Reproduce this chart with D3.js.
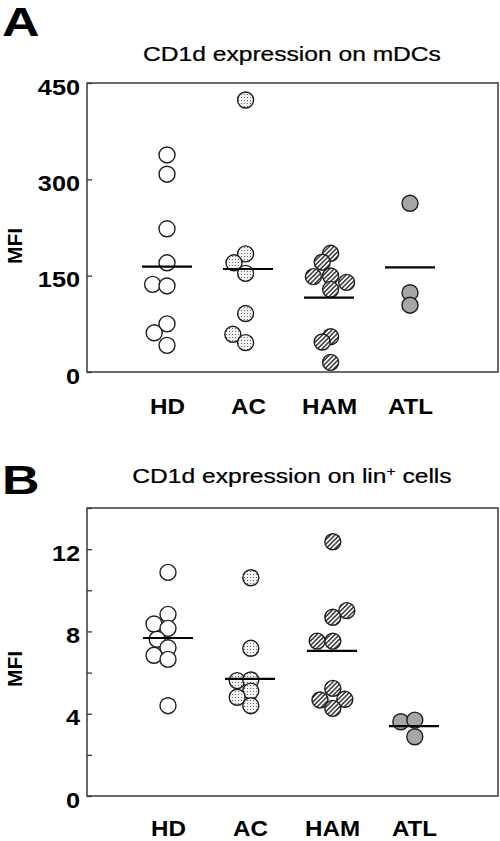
<!DOCTYPE html>
<html><head><meta charset="utf-8">
<script src="https://cdn.jsdelivr.net/npm/d3@7"></script>
<style>html,body{margin:0;padding:0;background:#fff}</style>
</head><body><svg id="c" width="500" height="841" xmlns="http://www.w3.org/2000/svg"></svg>
<script>
const categories = ["HD", "AC", "HAM", "ATL"];

// Panel A: CD1d expression on mDCs (MFI)
const mdcHD  = [338, 308, 223, 170, 136.5, 134, 75, 61, 41.5];
const mdcAC  = [423.5, 184, 170, 153.6, 91, 58.7, 45.7];
const mdcHAM = [184.8, 171, 148.5, 149.5, 139.6, 128.7, 55, 46.7, 15];
const mdcATL = [262.7, 123.5, 104];
const mdcMeans = [164, 160.4, 115.7, 163];
const mdcTicks = [0, 150, 300, 450];
const mdcTickLabels = ["0", "150", "300", "450"];

// Panel B: CD1d expression on lin+ cells (MFI)
const linHD  = [10.87, 8.83, 8.36, 8.15, 7.62, 7.21, 6.84, 6.64, 4.39];
const linAC  = [10.61, 7.18, 5.61, 5.64, 5.10, 4.80, 4.39];
const linHAM = [12.36, 9.01, 8.69, 7.53, 7.53, 5.23, 4.67, 4.70, 4.26];
const linATL = [3.61, 3.69, 2.88];
const linMeans = [7.68, 5.69, 7.05, 3.40];
const linTicks = [0, 2, 4, 6, 8, 10, 12, 14];
const linTickLabels = ["0", "", "4", "", "8", "", "12", ""];

// dodge slots of overlapping points (in circle radii)
const mdcHDdx  = [0, 0, 0, 0, -1.8, 0, 0, -1.6, 0];
const mdcACdx  = [-0.3, -0.3, -1.75, -0.3, -0.3, -1.9, -0.3];
const mdcHAMdx = [0.2, -0.85, -1.95, 0.2, 2.2, 0.2, 0.2, -0.85, 0.2];
const mdcATLdx = [0, 0, 0];
const linHDdx  = [0, 0, -1.75, 0, -1.35, 0, -1.75, 0, 0];
const linACdx  = [0.1, 0.1, -1.6, 0.1, 0.1, -1.6, 0.1];
const linHAMdx = [0.1, 1.85, 0.1, -1.85, 0.1, 0.1, -1.5, 1.6, 0.1];
const linATLdx = [-1.65, 0.1, 0.1];

const fills = ["#ffffff", "url(#dots)", "url(#hatch)", "#a6a6a6"];
const R = 8;
const FONT = "'Liberation Sans', Arial, Helvetica, sans-serif";

const svg = d3.select("#c");
const defs = svg.append("defs");
const pd = defs.append("pattern").attr("id", "dots").attr("patternUnits", "userSpaceOnUse")
  .attr("width", 3).attr("height", 3);
pd.append("rect").attr("width", 3).attr("height", 3).attr("fill", "#f4f4f4");
pd.append("circle").attr("cx", 1.5).attr("cy", 1.5).attr("r", 0.6).attr("fill", "#555");
const ph = defs.append("pattern").attr("id", "hatch").attr("patternUnits", "userSpaceOnUse")
  .attr("width", 3.2).attr("height", 3.2).attr("patternTransform", "rotate(45)");
ph.append("rect").attr("width", 3.2).attr("height", 3.2).attr("fill", "#ffffff");
ph.append("line").attr("x1", 0.8).attr("y1", 0).attr("x2", 0.8).attr("y2", 3.2)
  .attr("stroke", "#2a2a2a").attr("stroke-width", 1.4);

const panels = [
  { letter: "A", title: ["CD1d expression on mDCs"], groups: [mdcHD, mdcAC, mdcHAM, mdcATL],
    dx: [mdcHDdx, mdcACdx, mdcHAMdx, mdcATLdx], means: mdcMeans, ticks: mdcTicks, labels: mdcTickLabels,
    top: 83, bottom: 372, xr: [167, 410], letterY: 36, titleY: 61, catY: 414, mfiY: 246 },
  { letter: "B", title: ["CD1d expression on lin", "+", " cells"], groups: [linHD, linAC, linHAM, linATL],
    dx: [linHDdx, linACdx, linHAMdx, linATLdx], means: linMeans, ticks: linTicks, labels: linTickLabels,
    top: 508, bottom: 796, xr: [168, 414], letterY: 494, titleY: 483, catY: 836, mfiY: 669 }
];
const left = 87, right = 498;

panels.forEach(p => {
  const y = d3.scaleLinear().domain([p.ticks[0], p.ticks[p.ticks.length - 1]]).range([p.bottom, p.top]);
  const x = d3.scalePoint().domain(categories).range(p.xr);
  const g = svg.append("g");

  // panel letter
  g.append("g").attr("transform", `translate(2,${p.letterY}) scale(1.3,1)`)
    .append("text").attr("font-family", FONT).attr("font-weight", "bold").attr("font-size", 40)
    .attr("fill", "#000").text(p.letter);

  // title
  const t = g.append("g").attr("transform", `translate(292,${p.titleY}) scale(1.2,1)`)
    .append("text").attr("font-family", FONT).attr("font-size", 20.5).attr("text-anchor", "middle")
    .attr("fill", "#000").attr("stroke", "#000").attr("stroke-width", 0.25);
  t.append("tspan").text(p.title[0]);
  if (p.title.length > 1) {
    t.append("tspan").attr("font-size", 13).attr("dy", -7).text(p.title[1]);
    t.append("tspan").attr("dy", 7).text(p.title[2]);
  }

  // frame
  g.append("rect").attr("x", left).attr("y", p.top).attr("width", right - left).attr("height", p.bottom - p.top)
    .attr("fill", "none").attr("stroke", "#3a3a3a").attr("stroke-width", 1.5);

  // y axis (inward ticks)
  const ya = g.append("g").attr("transform", `translate(${left},0)`)
    .call(d3.axisLeft(y).tickValues(p.ticks).tickSizeInner(-5).tickSizeOuter(0).tickPadding(7)
      .tickFormat((d, i) => p.labels[i]));
  ya.select(".domain").remove();
  ya.selectAll(".tick line").attr("stroke", "#3a3a3a").attr("stroke-width", 1.3);
  ya.selectAll(".tick text").attr("font-family", FONT).attr("font-weight", "bold").attr("font-size", 22)
    .attr("fill", "#000").attr("dy", "0.5em").attr("x", -7 / 1.15).attr("transform", "scale(1.15,1)");

  // y label
  g.append("text").attr("transform", `translate(22,${p.mfiY}) rotate(-90)`).attr("text-anchor", "middle")
    .attr("font-family", FONT).attr("font-weight", "bold").attr("font-size", 21).attr("fill", "#000").text("MFI");

  // x axis labels
  const xa = g.append("g").attr("transform", `translate(0,${p.bottom})`)
    .call(d3.axisBottom(x).tickSize(0).tickPadding(p.catY - p.bottom - 15.6));
  xa.select(".domain").remove();
  xa.selectAll(".tick text").attr("font-family", FONT).attr("font-weight", "bold").attr("font-size", 22)
    .attr("fill", "#000").attr("transform", "scale(1.1,1)");

  // points
  categories.forEach((c, ci) => {
    const vals = p.groups[ci];
    g.append("g").selectAll("circle").data(vals).join("circle")
      .attr("cx", (d, i) => x(c) + p.dx[ci][i] * R)
      .attr("cy", d => y(d))
      .attr("r", R)
      .attr("fill", fills[ci])
      .attr("stroke", "#1e1e1e").attr("stroke-width", 1.4);
  });

  // mean lines
  g.append("g").selectAll("line").data(p.means).join("line")
    .attr("x1", (d, i) => x(categories[i]) - 25).attr("x2", (d, i) => x(categories[i]) + 25)
    .attr("y1", d => y(d)).attr("y2", d => y(d))
    .attr("stroke", "#000").attr("stroke-width", 2.2);
});
</script></body></html>
